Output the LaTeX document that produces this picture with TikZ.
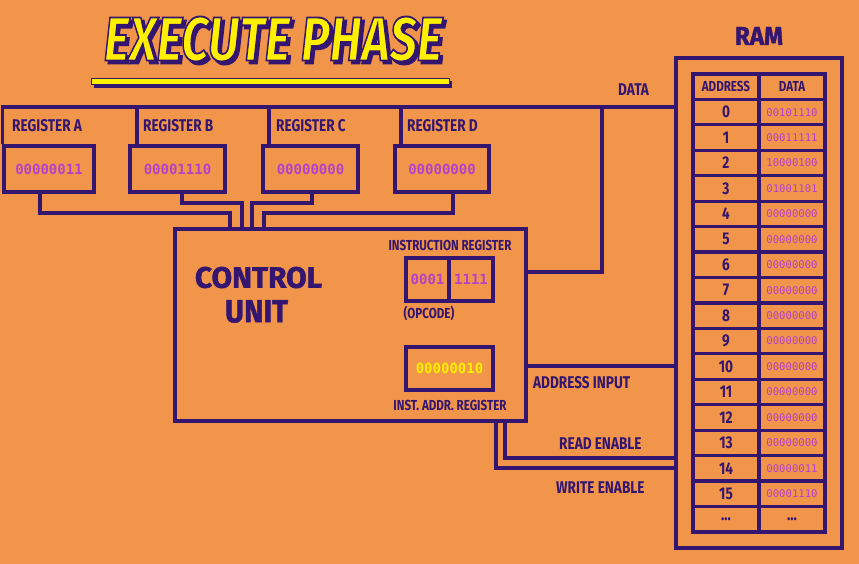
\documentclass[tikz,border=0pt]{standalone}
\usepackage{fontspec}
\newfontfamily\labf{Fira Sans}[FakeStretch=0.8]
\newfontfamily\heavyf{Fira Sans}[FakeBold=1.5]
\newfontfamily\titlef{Fira Sans}[FakeBold=3]
\newfontfamily\monof{DejaVu Sans Mono}
\definecolor{bgorange}{RGB}{241,149,74}
\definecolor{deep}{RGB}{52,22,112}
\definecolor{mag}{RGB}{180,64,204}
\definecolor{yel}{RGB}{255,240,0}
\newcommand\ttltext{\resizebox{338pt}{44pt}{\titlef\bfseries\itshape EXECUTE PHASE}}
\tikzset{
  wire/.style={draw=deep, line width=3.2pt},
  box/.style={draw=deep, line width=3.2pt, rectangle, inner sep=0pt},
  cell/.style={draw=deep, line width=3.2pt, rectangle, inner sep=0pt, minimum width=66pt, minimum height=25.44pt},
  lbl/.style={text=deep, font=\labf\bfseries\fontsize{17}{17}\selectfont, inner sep=0pt},
  slbl/.style={text=deep, font=\labf\bfseries\fontsize{14.5}{14.5}\selectfont, inner sep=0pt},
  val/.style={text=mag, font=\monof\bfseries\fontsize{14}{14}\selectfont},
  ramv/.style={text=mag, font=\monof\fontsize{10.6}{10.6}\selectfont},
  big/.style={text=deep, inner sep=0pt}
}
\begin{document}
\begin{tikzpicture}[x=1pt,y=-1pt]
\useasboundingbox (0,0) rectangle (859,564);
\fill[bgorange] (0,0) rectangle (859,564);

% ---- title
\node[text=deep, inner sep=0pt] (tsh) at (276,42) {\ttltext};
\node[inner sep=0pt] (ttl) at (273,39) {\color{yel}\special{pdf:code 0.204 0.086 0.439 RG}\ttltext};
\fill[deep] (94,81) rectangle (452,88);
\filldraw[fill=yel, draw=deep, line width=0.8pt] (91,78) rectangle (449,84);

% ---- registers
\node[box, val, minimum width=90pt, minimum height=46pt] (regA) at (49,169) {00000011};
\node[box, val, minimum width=95pt, minimum height=46pt] (regB) at (177.5,169) {00001110};
\node[box, val, minimum width=95pt, minimum height=46pt] (regC) at (310.5,169) {00000000};
\node[box, val, minimum width=94pt, minimum height=46pt] (regD) at (442,169) {00000000};
\node[lbl, anchor=base west] (lA) at (12,132) {REGISTER A};
\node[lbl, anchor=base west] (lB) at (143,132) {REGISTER B};
\node[lbl, anchor=base west] (lC) at (276,132) {REGISTER C};
\node[lbl, anchor=base west] (lD) at (407,132) {REGISTER D};

% ---- RAM
\node[box, minimum width=166pt, minimum height=490pt] (ram) at (759,303) {};
\node[big] (ramt) at (759,36) {\resizebox{48pt}{18pt}{\heavyf\bfseries RAM}};
\node[cell, slbl] (hadr) at (726,86.72) {ADDRESS};
\node[cell, slbl] (hdat) at (792,86.72) {DATA};
\foreach \a/\d [count=\k] in {0/00101110,1/00011111,2/10000100,3/01001101,4/00000000,5/00000000,6/00000000,7/00000000,8/00000000,9/00000000,10/00000000,11/00000000,12/00000000,13/00000000,14/00000011,15/00001110}{
  \pgfmathsetmacro\yy{74+25.44*\k+12.72}
  \node[cell, lbl] (ad\a) at (726,\yy) {\a};
  \node[cell, ramv] (da\a) at (792,\yy) {\d};
}
\node[cell, lbl] (adx) at (726,519.28) {...};
\node[cell, lbl] (dax) at (792,519.28) {...};

% ---- control unit
\node[box, minimum width=351pt, minimum height=192pt] (cu) at (350.5,325) {};
\node[big] (cu1) at (258.5,277.5) {\resizebox{127pt}{21pt}{\heavyf\bfseries CONTROL}};
\node[big] (cu2) at (256.5,311.5) {\resizebox{63pt}{22pt}{\heavyf\bfseries UNIT}};
\node[box, val, minimum width=43pt, minimum height=43pt] (irop) at (427.5,279.5) {0001};
\node[box, val, minimum width=44pt, minimum height=43pt] (irad) at (471,279.5) {1111};
\node[box, val, text=yel, minimum width=87pt, minimum height=43pt] (iar) at (449.5,368.5) {00000010};
\node[slbl, anchor=base] (irl) at (450,250) {INSTRUCTION REGISTER};
\node[slbl, anchor=base] (opl) at (429,318) {(OPCODE)};
\node[slbl, anchor=base] (iarl) at (450,410) {INST. ADDR. REGISTER};

% ---- buses
\draw[wire] (regA.north west) |- (ram.west |- 0,107);
\draw[wire] (regB.north -| 137,0) -- (137,107);
\draw[wire] (regC.north -| 269,0) -- (269,107);
\draw[wire] (regD.north -| 401,0) -- (401,107);
\draw[wire] (regA.south -| 40,0) |- (230,213) -- (cu.north -| 230,0);
\draw[wire] (regB.south -| 182,0) |- (242,203) -- (cu.north -| 242,0);
\draw[wire] (regC.south -| 312,0) |- (252,203) -- (cu.north -| 252,0);
\draw[wire] (regD.south -| 453,0) |- (264,213) -- (cu.north -| 264,0);
\draw[wire] (cu.east |- 0,272) -| (602,107);
\draw[wire] (cu.east |- 0,366) -- (ram.west |- 0,366);
\draw[wire] (cu.south -| 505,0) |- (ram.west |- 0,458);
\draw[wire] (cu.south -| 496,0) |- (ram.west |- 0,468);

\node[lbl, anchor=base west] (ldata) at (618,96) {DATA};
\node[lbl, anchor=base west] (laddr) at (533,388) {ADDRESS INPUT};
\node[lbl, anchor=base west] (lread) at (559,449) {READ ENABLE};
\node[lbl, anchor=base west] (lwrite) at (556,493) {WRITE ENABLE};
\end{tikzpicture}
\end{document}
